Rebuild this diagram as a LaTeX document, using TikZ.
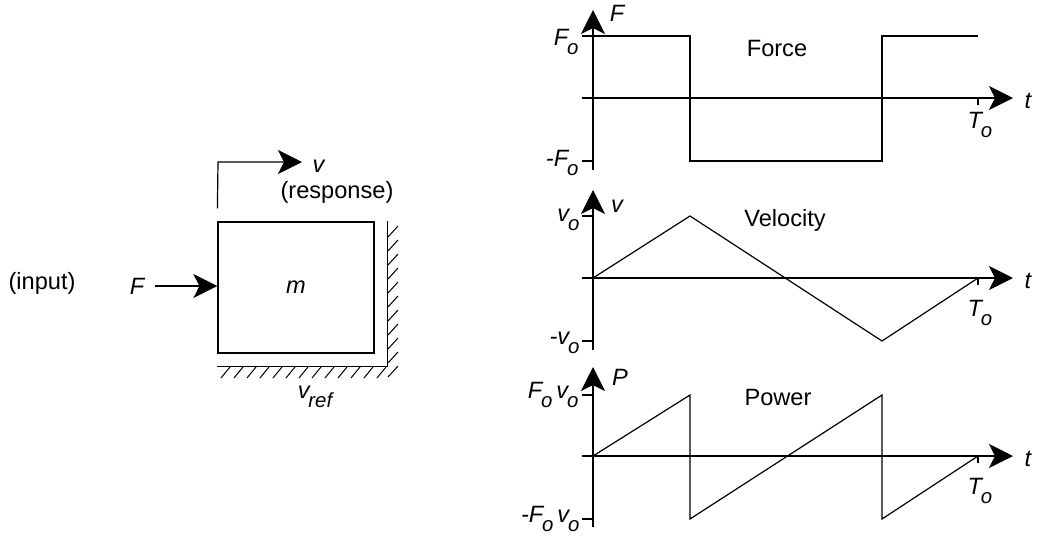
\documentclass[tikz,border=0pt]{standalone}
\usepackage{fontspec}
\setmainfont{Liberation Sans}
\usetikzlibrary{arrows.meta}
\usetikzlibrary{calc}
\usetikzlibrary{positioning}

\tikzset{
  bigarrow/.style={-{Stealth[length=12pt,width=12pt,inset=3pt]}},
  axisline/.style={bigarrow,line width=0.6pt},
  wave/.style={line width=0.6pt,line join=miter},
  hatch/.style={line width=0.5pt},
  lbl/.style={inner sep=0pt,font=\fontsize{11.8}{13}\selectfont},
  sym/.style={inner sep=0pt,font=\fontsize{11.8}{13}\selectfont\itshape},
}
\newcommand{\lowsub}[1]{\kern-0.6pt\raisebox{-0.4em}{\fontsize{10.2}{11}\selectfont #1}}

\begin{document}
\begin{tikzpicture}[x=0.5pt,y=-0.5pt,line width=0.6pt]
                \useasboundingbox (0,0) rectangle (1040,537);

                % mass on its ground
                \node[draw,minimum width=78pt,minimum height=65.5pt,sym] (mass) at (296,287.5) {m};

                \coordinate (wallbot) at ($(mass.south east)+(13,13)$);
                \coordinate (walltop) at (wallbot |- mass.north);
                \coordinate (groundend) at (mass.west |- wallbot);
                \draw (groundend) -- (wallbot) -- (walltop);

                \foreach \x in {221,234,...,380}
                    \draw[hatch] (\x,378) -- (\x+9,367);
                \foreach \y in {226,240,...,366}
                    \draw[hatch] (388,\y+11) -- (398,\y);

                \node[sym] (vref) at (315,397) {v\lowsub{ref}};

                % input force
                \node[lbl] (inlab) at (42,283) {(input)};
                \node[sym] (Flab) at (137,286) {F};
                \draw[bigarrow,shorten <=5pt] (Flab.east) -- (mass.west |- Flab);

                % response velocity
                \node[sym,anchor=west] (vlab) at (312,166) {v};
                \node[lbl] (resp) at (337,192) {(response)};
                \coordinate (vfoot) at ($(mass.north west)+(0,-13)$);
                \coordinate (vknee) at (218,162);
                \draw[bigarrow,shorten >=5pt] (vfoot) -- (vknee) -- (vknee -| vlab.west);

                % Force graph
                \begin{scope}[shift={(593,98)}]
                    \draw[axisline] (-11,0) -- (420,0);
                    \draw[axisline] (0,72) -- (0,-88);
                    \draw (-11,63) -- (0,63);
                    \draw (385,0) -- (385,7);
                    \draw[wave] (-11,-62) -- (97,-62) -- (97,63) -- (289,63) -- (289,-62) -- (385,-62);
                \end{scope}
                \node[sym] (Faxis) at (617,13) {F};
                \node[sym,anchor=east] (Fhi) at (579,42) {F\lowsub{o}};
                \node[sym,anchor=east] (Flo) at (579,163) {-F\lowsub{o}};
                \node[lbl] (forcettl) at (777,48) {Force};
                \node[sym] (tF) at (1028,101) {t};
                \node[sym] (TF) at (980,125) {T\lowsub{o}};

                % Velocity graph
                \begin{scope}[shift={(593,278)}]
                    \draw[axisline] (-11,0) -- (420,0);
                    \draw[axisline] (0,72) -- (0,-88);
                    \draw (-11,-62) -- (0,-62);
                    \draw (-11,63) -- (0,63);
                    \draw (385,0) -- (385,7);
                    \draw[wave] (0,0) -- (97,-62) -- (289,63) -- (385,0);
                \end{scope}
                \node[sym] (vaxis) at (617,206) {v};
                \node[sym,anchor=east] (vhi) at (580,220) {v\lowsub{o}};
                \node[sym,anchor=east] (vlo) at (580,343) {-v\lowsub{o}};
                \node[lbl] (velttl) at (785,220) {Velocity};
                \node[sym] (tv) at (1028,281) {t};
                \node[sym] (Tv) at (980,313) {T\lowsub{o}};

                % Power graph
                \begin{scope}[shift={(593,456)}]
                    \draw[axisline] (-11,0) -- (420,0);
                    \draw[axisline] (0,71) -- (0,-89);
                    \draw (-11,-61) -- (0,-61);
                    \draw (-11,63) -- (0,63);
                    \draw (385,0) -- (385,7);
                    \draw[wave] (0,0) -- (97,-61) -- (97,63) -- (289,-61) -- (289,63) -- (385,0);
                \end{scope}
                \node[sym] (Paxis) at (620,377) {P};
                \node[sym,anchor=east] (Phi) at (579,395) {F\lowsub{o}\,v\lowsub{o}};
                \node[sym,anchor=east] (Plo) at (580,519) {-F\lowsub{o}\,v\lowsub{o}};
                \node[lbl] (powttl) at (778,397) {Power};
                \node[sym] (tP) at (1028,459) {t};
                \node[sym] (TP) at (980,491) {T\lowsub{o}};
\end{tikzpicture}
\end{document}
